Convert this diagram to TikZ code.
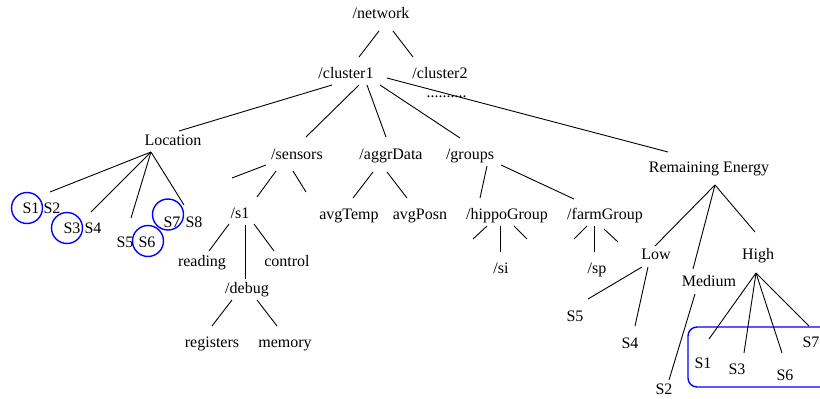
\documentclass[tikz,border=0pt]{standalone}
\usepackage{fontspec}
\setmainfont{Liberation Serif}
\usetikzlibrary{calc}
\tikzset{
  txt/.style={inner sep=0pt, outer sep=0pt, anchor=base, font=\fontsize{16}{19}\selectfont},
  ring/.style={draw=blue, line width=1.4pt, circle, minimum size=31pt, inner sep=0pt},
  grpbox/.style={draw=blue, line width=1.4pt, rounded corners=9pt, inner sep=0pt},
  edge/.style={draw=black, line width=0.9pt}
}
\begin{document}
\begin{tikzpicture}[x=1pt,y=-1pt]
\clip (0,0) rectangle (820,399);
\fill[white] (0,0) rectangle (820,399);
% upper levels
\node[txt] (net) at (381,18) {/network};
\node[txt] (c1) at (346,78) {/cluster1};
\node[txt] (c2) at (440,78) {/cluster2};
\node[txt] (dots) at (446.5,97.5) {..........};
\node[txt] (loc) at (173,145) {Location};
\node[txt] (sens) at (297,159) {/sensors};
\node[txt] (aggr) at (391,159) {/aggrData};
\node[txt] (grp) at (470,159) {/groups};
\node[txt] (re) at (709,172) {Remaining Energy};
% location children
\node[ring] (r1) at (27,208) {};
\node[ring] (r3) at (67,228) {};
\node[ring] (r6) at (148,241) {};
\node[ring] (r7) at (168,214.5) {};
\node[txt] (ls1) at (31,213) {S1};
\node[txt] (ls2) at (52,213) {S2};
\node[txt] (ls3) at (72,233) {S3};
\node[txt] (ls4) at (93,233) {S4};
\node[txt] (ls5) at (125,247) {S5};
\node[txt] (ls6) at (147,247) {S6};
\node[txt] (ls7) at (172,227) {S7};
\node[txt] (ls8) at (194,227) {S8};
% sensors subtree
\node[txt] (s1n) at (240,218) {/s1};
\node[txt] (reading) at (202,266) {reading};
\node[txt] (control) at (287,266) {control};
\node[txt] (debug) at (247,293) {/debug};
\node[txt] (registers) at (212,347) {registers};
\node[txt] (memory) at (285,347) {memory};
% aggrData subtree
\node[txt] (avgT) at (349,219) {avgTemp};
\node[txt] (avgP) at (420,219) {avgPosn};
% groups subtree
\node[txt] (hippo) at (507,219) {/hippoGroup};
\node[txt] (farm) at (605,219) {/farmGroup};
\node[txt] (si) at (501,273) {/si};
\node[txt] (sp) at (597,273) {/sp};
% remaining energy subtree
\node[txt] (low) at (656,259) {Low};
\node[txt] (high) at (758,259) {High};
\node[txt] (medium) at (709,286) {Medium};
\node[txt] (rs5) at (575,321) {S5};
\node[txt] (rs4) at (630,348) {S4};
\node[txt] (rs2) at (664,394) {S2};
\node[txt] (rs1) at (703,368) {S1};
\node[txt] (rs3) at (737,374) {S3};
\node[txt] (rs6) at (785,380) {S6};
\node[txt] (rs7) at (811,347) {S7};
\node[grpbox, minimum width=152pt, minimum height=60pt] (hibox) at (764,357) {};
% fan points and free ends
\coordinate (locap) at ($(loc.base)+(-22,7)$);
\coordinate (reap) at ($(re.base)+(6,13)$);
\coordinate (hiap) at ($(high.base)+(-2,14)$);
\coordinate (sf1) at ($(sens.base)+(-65,19)$);
\coordinate (sf2) at ($(sens.base)+(9,33)$);
\coordinate (hf1) at ($(hippo.base)+(-34,20)$);
\coordinate (hf2) at ($(hippo.base)+(20,20)$);
\coordinate (ff1) at ($(farm.base)+(-31,20)$);
\coordinate (ff2) at ($(farm.base)+(13,23)$);
% connectors
\draw[edge] ($(net.base)+(-2,13)$) -- ($(c1.base)+(13,-21)$);
\draw[edge] ($(net.base)+(12,13)$) -- ($(c2.base)+(-27,-21)$);
\draw[edge] ($(c1.base)+(-14,7)$) -- ($(loc.base)+(6,-14)$);
\draw[edge] ($(c1.base)+(13,7)$) -- ($(sens.base)+(9,-22)$);
\draw[edge] ($(c1.base)+(21,7)$) -- ($(aggr.base)+(-5,-22)$);
\draw[edge] ($(c1.base)+(34,7)$) -- ($(grp.base)+(-10,-21)$);
\draw[edge] ($(c1.base)+(41,0)$) -- ($(re.base)+(-41,-20)$);
\draw[edge] (locap) -- ($(ls2.base)+(-2,-21)$);
\draw[edge] (locap) -- ($(ls4.base)+(-2,-21)$);
\draw[edge] (locap) -- ($(ls5.base)+(6,-29)$);
\draw[edge] (locap) -- ($(ls8.base)+(-10,-22)$);
\draw[edge] ($(sens.base)+(-31,6)$) -- (sf1);
\draw[edge] ($(sens.base)+(-21,12)$) -- ($(s1n.base)+(17,-21)$);
\draw[edge] ($(sens.base)+(-4,12)$) -- (sf2);
\draw[edge] ($(s1n.base)+(-11,6)$) -- ($(reading.base)+(7,-15)$);
\draw[edge] ($(s1n.base)+(5,7)$) -- ($(debug.base)+(-2,-14)$);
\draw[edge] ($(s1n.base)+(14,6)$) -- ($(control.base)+(-13,-15)$);
\draw[edge] ($(debug.base)+(-15,7)$) -- ($(registers.base)+(0,-21)$);
\draw[edge] ($(debug.base)+(10,7)$) -- ($(memory.base)+(-8,-21)$);
\draw[edge] ($(aggr.base)+(-18,13)$) -- ($(avgT.base)+(4,-21)$);
\draw[edge] ($(aggr.base)+(-4,13)$) -- ($(avgP.base)+(-13,-21)$);
\draw[edge] ($(grp.base)+(17,7)$) -- ($(hippo.base)+(-27,-21)$);
\draw[edge] ($(grp.base)+(31,6)$) -- ($(farm.base)+(-31,-20)$);
\draw[edge] ($(hippo.base)+(-20,7)$) -- (hf1);
\draw[edge] ($(hippo.base)+(-7,7)$) -- ($(si.base)+(-1,-21)$);
\draw[edge] ($(hippo.base)+(7,7)$) -- (hf2);
\draw[edge] ($(farm.base)+(-18,7)$) -- (ff1);
\draw[edge] ($(farm.base)+(-11,7)$) -- ($(sp.base)+(-3,-21)$);
\draw[edge] ($(farm.base)+(-1,10)$) -- (ff2);
\draw[edge] (reap) -- ($(low.base)+(-1,-13)$);
\draw[edge] (reap) -- ($(medium.base)+(-16,-17)$);
\draw[edge] (reap) -- ($(high.base)+(-3,-27)$);
\draw[edge] ($(low.base)+(-14,8)$) -- ($(rs5.base)+(13,-22)$);
\draw[edge] ($(low.base)+(-8,8)$) -- ($(rs4.base)+(5,-22)$);
\draw[edge] ($(medium.base)+(-14,8)$) -- ($(rs2.base)+(5,-14)$);
\draw[edge] (hiap) -- ($(rs1.base)+(6,-29)$);
\draw[edge] (hiap) -- ($(rs3.base)+(7,-21)$);
\draw[edge] (hiap) -- ($(rs6.base)+(-3,-27)$);
\draw[edge] (hiap) -- ($(rs7.base)+(-2,-21)$);
\end{tikzpicture}
\end{document}
